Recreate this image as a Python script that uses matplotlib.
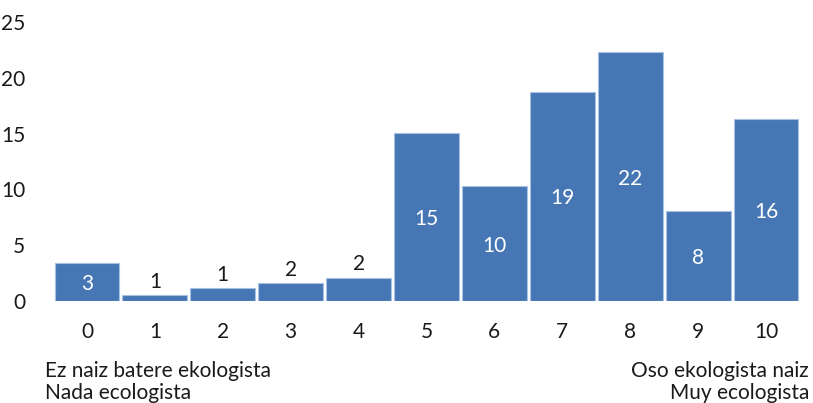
import matplotlib
matplotlib.use("Agg")
import matplotlib.pyplot as plt

categories = ["0", "1", "2", "3", "4", "5", "6", "7", "8", "9", "10"]
values = [3.38, 0.5, 1.14, 1.61, 2.09, 15.03, 10.3, 18.75, 22.28, 8.04, 16.34]
labels = ["3", "1", "1", "2", "2", "15", "10", "19", "22", "8", "16"]
inside = [True, False, False, False, False, True, True, True, True, True, True]
yticks = [0, 5, 10, 15, 20, 25]

plt.rcParams['font.family'] = ['Lato', 'DejaVu Sans']

W, H = 813, 403
fs = 15
fig = plt.figure(figsize=(W/100, H/100), dpi=100)
ax = fig.add_axes([53/W, 1-301/H, (800-53)/W, (301-22)/H])

blue = '#4677B4'
x = list(range(len(categories)))
ax.bar(x, values, width=0.955, color=blue, edgecolor='#A8C1E2', linewidth=0.8)

for xi, v, lab, ins in zip(x, values, labels, inside):
    if ins:
        ax.text(xi, v/2, lab, ha='center', va='center_baseline', color='white', fontsize=fs)
    else:
        ax.text(xi, v + 0.3, lab, ha='center', va='bottom', color='#1a1a1a', fontsize=fs)

ax.set_xlim(-0.5, len(categories)-0.5)
ax.set_ylim(0, 25)
ax.set_xticks(x)
ax.set_xticklabels(categories)
ax.set_yticks(yticks)
ax.tick_params(axis='both', length=0, labelsize=fs, colors='#1a1a1a')
ax.tick_params(axis='y', pad=20)
ax.tick_params(axis='x', pad=15)
for s in ax.spines.values():
    s.set_visible(False)

fig.text(45/W, 1-377/H, "Ez naiz batere ekologista", ha='left', va='baseline', fontsize=fs, color='#1a1a1a')
fig.text(45/W, 1-399/H, "Nada ecologista", ha='left', va='baseline', fontsize=fs, color='#1a1a1a')
fig.text(809/W, 1-377/H, "Oso ekologista naiz", ha='right', va='baseline', fontsize=fs, color='#1a1a1a')
fig.text(809/W, 1-399/H, "Muy ecologista", ha='right', va='baseline', fontsize=fs, color='#1a1a1a')

fig.savefig("out.png", dpi=100)
